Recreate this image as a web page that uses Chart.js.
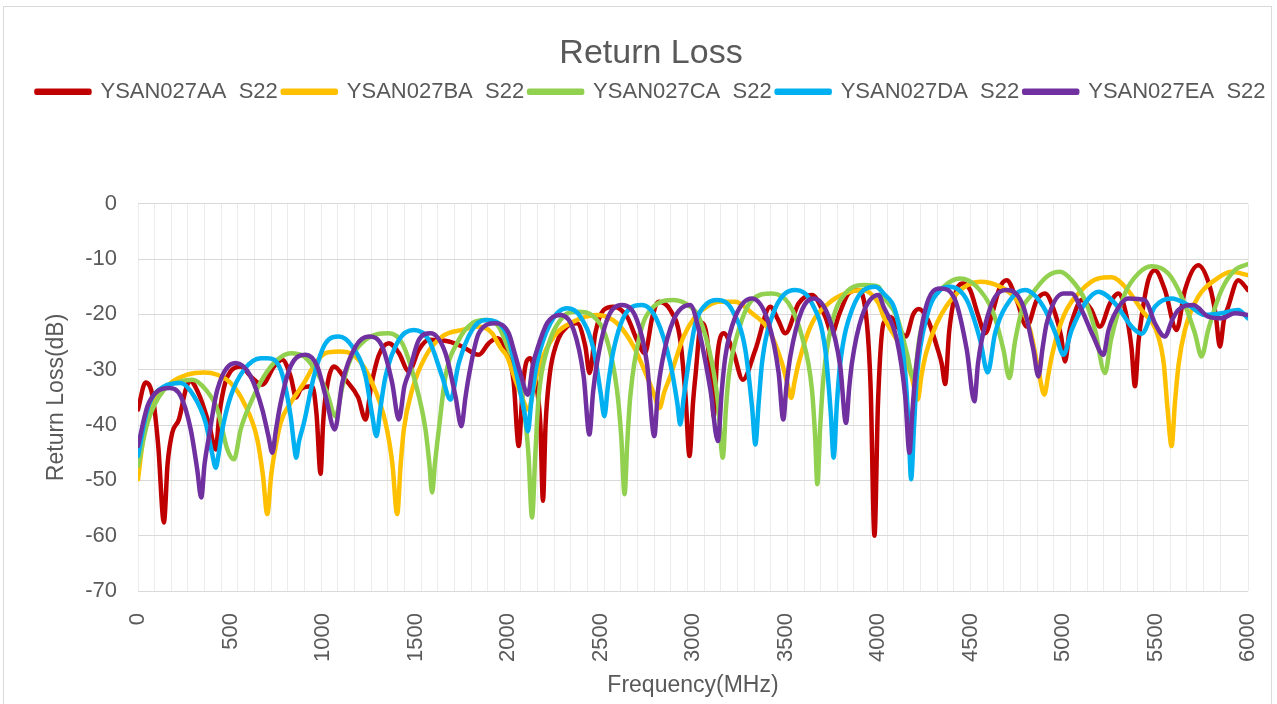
<!DOCTYPE html>
<html>
<head>
<meta charset="utf-8">
<title>Return Loss</title>
<script src="https://cdn.jsdelivr.net/npm/chart.js@4.4.1/dist/chart.umd.min.js"></script>
<style>
  html, body { margin: 0; padding: 0; background: #fff; overflow: hidden; }
</style>
</head>
<body>
<canvas id="rl" width="1277" height="704"></canvas>
<script>
// legend names and colours (Excel default palette)
const seriesNames = ['YSAN027AA  S22', 'YSAN027BA  S22', 'YSAN027CA  S22', 'YSAN027DA  S22', 'YSAN027EA  S22'];
const seriesColors = ['#C00000', '#FFC000', '#92D050', '#00B0F0', '#7030A0'];

// axis ranges / ticks
const freqMin = 0, freqMax = 6000, freqLabelStep = 500, freqGridStep = 90;
const lossMin = -70, lossMax = 0, lossStep = 10;

// [frequency MHz, return loss dB]
const aaS22 = [[0,-37.2],[41,-32.3],[80,-35],[110,-44],[140,-57.6],[160,-47],[185,-41.4],[221,-39],[258,-33.6],[280,-32],
  [330,-34.5],[385,-40],[420,-44.4],[440,-38],[470,-32.5],[500,-30.3],[555,-29.4],[609,-31.2],[672,-32.7],[735,-29.4],
  [780,-28.2],[825,-31.2],[855,-35],[880,-33.5],[942,-33],[965,-38],[987,-48.8],[1000,-40],[1014,-34.8],[1059,-29.4],
  [1122,-31.8],[1190,-35],[1230,-39],[1260,-33],[1300,-27.5],[1356,-25.2],[1410,-27],[1464,-30.3],[1518,-26.4],[1572,-24.6],
  [1680,-24.9],[1752,-25.8],[1842,-27.3],[1896,-25.2],[1941,-24.3],[1995,-27],[2030,-32],[2058,-43.8],[2080,-33],[2100,-28.5],
  [2121,-27.9],[2157,-33.6],[2175,-40],[2189,-53.7],[2203,-40],[2225,-31],[2260,-25.5],[2319,-22.2],[2373,-21.6],[2418,-25.8],
  [2441,-30.6],[2472,-23.4],[2517,-19.2],[2571,-18.6],[2643,-20.4],[2697,-24.6],[2740,-27],[2780,-20.5],[2814,-17.7],[2877,-19.2],
  [2931,-24.6],[2960,-35],[2981,-45.6],[3000,-36],[3013,-31.2],[3045,-21.5],[3075,-24],[3100,-33],[3112,-38.4],[3130,-28],
  [3166,-23.4],[3220,-27],[3269,-31.8],[3337,-26.4],[3418,-18.6],[3460,-21],[3499,-23.4],[3571,-18],[3643,-16.5],[3715,-20.4],
  [3751,-23.4],[3790,-20],[3841,-16.2],[3895,-15.6],[3940,-21.6],[3960,-33],[3981,-60],[4000,-36],[4030,-21.6],[4070,-20.5],
  [4110,-22.5],[4150,-24],[4190,-20],[4220,-19],[4270,-21],[4320,-26],[4345,-29],[4363,-32.6],[4385,-23],[4426,-15.5],
  [4462,-14.4],[4498,-15.6],[4540,-20],[4580,-23.4],[4620,-19.5],[4660,-15],[4696,-13.8],[4750,-17.4],[4804,-22.2],[4858,-17.4],
  [4903,-16.2],[4957,-19.8],[4990,-24],[5011,-28.5],[5035,-23],[5056,-20.4],[5101,-17.4],[5150,-19],[5200,-22.2],[5254,-18],
  [5299,-16.2],[5344,-20.4],[5370,-26],[5389,-33],[5408,-25],[5425,-20.4],[5461,-13.8],[5497,-12],[5551,-15.6],[5614,-22.8],
  [5659,-15.6],[5731,-11.1],[5794,-15],[5825,-20],[5848,-25.8],[5870,-21],[5893,-18.6],[5947,-13.8],[6000,-15.6]];

const baS22 = [[0,-49.8],[33,-41.4],[87,-36],[177,-32.4],[267,-30.9],[357,-30.5],[429,-30.9],[501,-32.4],[573,-36],[645,-42.6],
  [675,-49],[699,-56.1],[720,-49],[735,-45.6],[771,-39.6],[825,-36],[897,-32.4],[960,-28.8],[1014,-27],[1086,-26.7],
  [1176,-27.6],[1266,-32.4],[1338,-39.6],[1375,-47],[1401,-56.1],[1420,-47],[1437,-40.8],[1482,-33.6],[1554,-27.6],[1644,-24],
  [1752,-22.8],[1842,-22.2],[1914,-23.4],[1959,-26],[1995,-27.6],[2031,-31],[2070,-34.5],[2112,-37.2],[2140,-33],[2175,-28.8],
  [2247,-24],[2355,-21.3],[2481,-20.1],[2589,-21.6],[2679,-25.8],[2751,-31.2],[2790,-34.5],[2819,-36.9],[2845,-34],[2877,-31.2],
  [2949,-24],[3012,-20.4],[3049,-19.2],[3139,-17.7],[3229,-17.7],[3319,-19.8],[3409,-22.8],[3481,-28.8],[3510,-32.5],[3531,-35.1],
  [3550,-32],[3571,-28.8],[3643,-21.6],[3733,-18],[3823,-16.2],[3913,-15.6],[4003,-18],[4030,-20.4],[4120,-25.8],[4180,-31],
  [4215,-35.4],[4235,-31],[4260,-27],[4318,-21.6],[4426,-16.2],[4552,-14.1],[4660,-15],[4750,-17.4],[4822,-22.8],[4867,-30],
  [4899,-34.5],[4920,-31],[4939,-27.6],[5002,-20.4],[5101,-15.6],[5191,-13.5],[5263,-13.3],[5335,-15],[5425,-19.2],[5515,-24],
  [5545,-29],[5565,-37],[5587,-43.8],[5605,-36],[5625,-29],[5659,-22.8],[5731,-16.8],[5821,-13.8],[5911,-12.3],[6000,-12.9]];

const caS22 = [[0,-47.4],[51,-39.6],[141,-33.6],[231,-32.1],[294,-31.8],[366,-33.6],[429,-37.2],[483,-44.4],[519,-46.2],[555,-40.8],
  [609,-36],[681,-31.2],[753,-28.2],[825,-27],[897,-27.6],[969,-30.6],[1020,-34],[1068,-38.4],[1105,-33],[1140,-28.8],
  [1230,-24.6],[1356,-23.4],[1428,-25.2],[1500,-32.4],[1554,-40.8],[1575,-47],[1590,-52.2],[1605,-47],[1626,-40.8],[1662,-31.2],
  [1734,-24.6],[1806,-21.6],[1878,-21],[1950,-22.2],[2004,-26.4],[2040,-29],[2085,-36.6],[2110,-45],[2130,-56.7],[2148,-45],
  [2166,-34.8],[2211,-26.4],[2283,-21],[2373,-19.5],[2463,-20.4],[2535,-24.6],[2589,-33.6],[2612,-42],[2630,-52.5],[2645,-43],
  [2661,-34.8],[2715,-23.4],[2787,-18.6],[2895,-17.4],[2985,-18.6],[3031,-20.4],[3103,-28.8],[3135,-36],[3161,-45.9],[3178,-37],
  [3193,-31.2],[3247,-22.8],[3319,-17.4],[3427,-16.2],[3517,-18],[3589,-24],[3643,-33.6],[3660,-42],[3672,-50.7],[3688,-40],
  [3706,-31.2],[3751,-21.6],[3823,-16.2],[3931,-14.7],[4003,-15],[4030,-16.8],[4102,-20.4],[4156,-27],[4192,-31.5],[4225,-24],
  [4264,-19.2],[4354,-15],[4444,-13.5],[4534,-15],[4624,-19.8],[4678,-26.4],[4710,-31.5],[4740,-25],[4780,-19],[4822,-16.8],
  [4912,-13.2],[4984,-12.3],[5047,-13.8],[5119,-17.4],[5173,-22.8],[5227,-30.6],[5260,-24.5],[5335,-16.2],[5407,-12.6],[5479,-11.3],
  [5569,-12.6],[5641,-16.8],[5713,-23.4],[5749,-27.6],[5785,-22.8],[5857,-15.6],[5929,-12],[6000,-10.9]];

const daS22 = [[0,-45.6],[51,-37.2],[141,-33],[231,-32.4],[303,-34.8],[366,-39.6],[400,-45],[420,-47.7],[437,-45],[456,-40.8],
  [501,-34.8],[573,-30],[663,-27.9],[699,-27.9],[771,-30],[825,-38.4],[845,-44],[855,-45.9],[870,-43],[897,-39.6],
  [951,-31.2],[1014,-25.2],[1086,-24],[1158,-25.8],[1230,-31.2],[1265,-38],[1289,-42],[1310,-37],[1338,-31.2],[1410,-24.6],
  [1491,-22.8],[1572,-24.6],[1644,-31.2],[1689,-35.4],[1734,-28.8],[1806,-22.8],[1878,-21],[1950,-21.6],[2004,-24.6],[2049,-31.2],
  [2090,-38],[2108,-41.1],[2125,-36],[2157,-28.8],[2229,-21.6],[2319,-18.9],[2391,-20.4],[2463,-26.4],[2500,-34],[2521,-38.4],
  [2540,-33],[2571,-26.4],[2643,-19.5],[2724,-18.3],[2805,-21],[2877,-28.8],[2915,-36],[2931,-39.9],[2950,-35],[2976,-28.8],
  [3013,-21.6],[3067,-18.3],[3130,-17.4],[3211,-19.2],[3283,-26.4],[3320,-37],[3337,-43.5],[3355,-36],[3373,-28.8],[3427,-20.4],
  [3553,-15.6],[3643,-18],[3715,-26.4],[3745,-38],[3760,-45.9],[3778,-36],[3796,-28.8],[3859,-19.2],[3985,-15],[4030,-16.2],
  [4102,-20.4],[4147,-30.6],[4165,-40],[4179,-49.8],[4195,-40],[4210,-31.2],[4264,-20.4],[4336,-15.6],[4390,-15],[4480,-17.4],
  [4552,-24.6],[4593,-30.5],[4633,-23.4],[4714,-17.4],[4795,-15.6],[4894,-18.6],[4960,-23.5],[5002,-27.3],[5047,-22.8],[5119,-18],
  [5191,-15.9],[5281,-18],[5371,-22.2],[5425,-23.5],[5497,-18.6],[5587,-17.1],[5677,-18.3],[5767,-20.1],[5857,-19.8],[5947,-19.2],
  [6000,-20.7]];

const eaS22 = [[0,-43.8],[51,-36.6],[105,-33.9],[168,-33.3],[231,-34.8],[285,-40.8],[320,-48],[342,-53.1],[360,-47],[384,-42],
  [429,-33.6],[528,-28.8],[609,-31.2],[672,-37.2],[705,-42],[726,-45],[745,-41],[771,-36],[825,-29.4],[906,-27.3],
  [969,-29.4],[1014,-34.8],[1064,-40.8],[1104,-32.4],[1176,-25.8],[1248,-24],[1320,-25.8],[1374,-32.4],[1410,-39],[1440,-33],
  [1464,-30.6],[1518,-24.6],[1581,-23.4],[1662,-27],[1716,-34.8],[1748,-40.2],[1770,-35],[1788,-31.2],[1842,-23.4],[1932,-21.6],
  [2004,-23.4],[2031,-26.4],[2070,-31],[2107,-34.5],[2135,-29],[2157,-26.4],[2211,-21.6],[2283,-20.1],[2355,-22.8],[2409,-31.2],
  [2440,-41.7],[2460,-34],[2481,-28.8],[2535,-21],[2616,-18.3],[2697,-21],[2751,-28.8],[2791,-42],[2810,-34],[2832,-28.8],
  [2895,-21],[2985,-18.3],[3031,-22.8],[3094,-33.6],[3135,-42.9],[3155,-34],[3175,-27.6],[3229,-20.4],[3319,-17.1],[3409,-21.6],
  [3463,-30.6],[3488,-39],[3505,-33],[3526,-27.6],[3589,-19.2],[3652,-17.1],[3733,-20.4],[3796,-29.4],[3827,-39.6],[3845,-33],
  [3859,-28.8],[3913,-20.4],[4003,-16.5],[4030,-18.6],[4102,-24.6],[4147,-34.8],[4170,-45],[4185,-38],[4201,-31.2],[4255,-19.2],
  [4336,-15.3],[4417,-17.4],[4480,-26.4],[4521,-35.7],[4540,-29],[4561,-24.6],[4624,-17.4],[4696,-15.6],[4786,-18.6],[4840,-26.4],
  [4867,-31.2],[4890,-26],[4912,-21.6],[5002,-16.2],[5047,-16.2],[5101,-19.2],[5164,-24],[5218,-27.3],[5245,-23],[5272,-20.4],
  [5353,-17.1],[5443,-17.4],[5497,-21.6],[5551,-24],[5590,-21],[5623,-19.2],[5704,-18.3],[5785,-20.4],[5857,-20.7],[5929,-19.8],
  [6000,-20.1]];

const allSeries = [aaS22, baS22, caS22, daS22, eaS22];

const TEXT = '#595959';
Chart.defaults.font.family = '"Liberation Sans", Arial, sans-serif';
Chart.defaults.color = TEXT;

// light grey frame round the whole chart, like the Excel chart border
const chartFrame = {
  id: 'chartFrame',
  beforeDraw(chart) {
    const c = chart.ctx;
    c.save();
    c.strokeStyle = '#d9d9d9';
    c.lineWidth = 1;
    c.strokeRect(3.5, 6.5, 1268, 720);
    c.restore();
  }
};

const datasets = allSeries.map((pts, i) => ({
  label: seriesNames[i],
  data: pts.map(p => ({ x: p[0], y: p[1] })),
  borderColor: seriesColors[i],
  backgroundColor: seriesColors[i],
  borderWidth: 4.5,
  borderCapStyle: 'round',
  borderJoinStyle: 'round',
  pointRadius: 0,
  cubicInterpolationMode: 'monotone',
  order: allSeries.length - i   // purple on top, red underneath
}));

new Chart(document.getElementById('rl'), {
  type: 'line',
  data: { datasets },
  plugins: [chartFrame],
  options: {
    responsive: false,
    animation: false,
    layout: { padding: { left: 25, right: 0, top: 0, bottom: 0 } },
    plugins: {
      title: {
        display: true,
        text: 'Return Loss',
        color: TEXT,
        font: { size: 34, weight: 'normal' },
        padding: { top: 33, bottom: 2 }
      },
      legend: {
        position: 'top',
        labels: {
          boxWidth: 53,
          boxHeight: 2,
          padding: 5,
          color: TEXT,
          font: { size: 22 },
          sort: (a, b) => a.datasetIndex - b.datasetIndex
        }
      },
      // empty block used as the gap between legend and plot
      subtitle: {
        display: true,
        text: ' ',
        weight: 500,
        font: { size: 10 },
        padding: { top: 0, bottom: 79 }
      },
      tooltip: { enabled: false }
    },
    scales: {
      x: {
        type: 'linear',
        position: 'bottom',
        min: freqMin,
        max: freqMax,
        ticks: {
          stepSize: freqLabelStep, minRotation: 90, maxRotation: 90, autoSkip: false,
          padding: 14, font: { size: 22 }, color: TEXT,
          callback: v => String(v)
        },
        grid: { display: false },
        border: { display: false },
        title: { display: true, text: 'Frequency(MHz)', color: TEXT, font: { size: 23 }, padding: { top: 4, bottom: 5 } },
        afterFit: s => { s.height = 113; s.paddingLeft = 0; s.paddingRight = 0; }
      },
      xg: {
        type: 'linear',
        position: 'bottom',
        min: freqMin,
        max: freqMax,
        ticks: { display: false, stepSize: freqGridStep, autoSkip: false },
        grid: { color: '#ececec', lineWidth: 1, drawTicks: false },
        border: { display: false },
        afterFit: s => { s.height = 0; s.paddingLeft = 0; s.paddingRight = 0; }
      },
      y: {
        type: 'linear',
        position: 'left',
        min: lossMin,
        max: lossMax,
        ticks: { stepSize: lossStep, padding: 21, font: { size: 22 }, color: TEXT },
        grid: { color: '#d9d9d9', lineWidth: 1, drawTicks: false },
        border: { display: false },
        title: { display: true, text: 'Return Loss(dB)', color: TEXT, font: { size: 23 }, padding: { top: 18, bottom: 0 } },
        afterFit: s => { s.width = 113; }
      },
      yr: {
        type: 'linear',
        position: 'right',
        ticks: { display: false },
        grid: { display: false },
        border: { display: false },
        afterFit: s => { s.width = 29; }
      }
    }
  }
});
</script>
</body>
</html>
